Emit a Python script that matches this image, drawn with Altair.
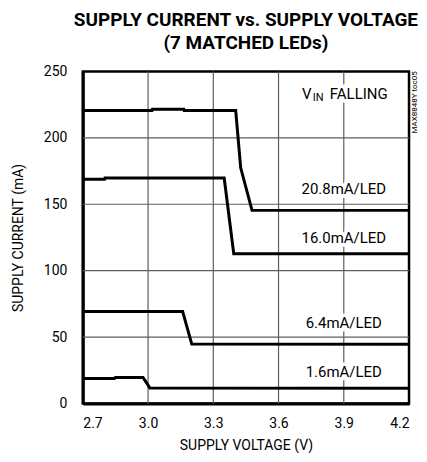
import altair as alt
import pandas as pd

FONT = "Roboto"

# Series
x_208 = [2.7, 3.018, 3.02, 3.164, 3.166, 3.403, 3.426, 3.478, 4.2]
y_208 = [220.5, 220.5, 221.5, 221.5, 220.5, 220.5, 177.4, 145.4, 145.4]
x_160 = [2.7, 2.80, 2.802, 3.350, 3.394, 4.2]
y_160 = [168.8, 168.8, 169.8, 169.8, 112.8, 112.8]
x_064 = [2.7, 3.159, 3.201, 4.2]
y_064 = [69.3, 69.3, 44.8, 44.6]
x_016 = [2.7, 2.845, 2.85, 2.977, 3.008, 4.2]
y_016 = [18.8, 18.8, 19.7, 19.7, 11.8, 11.5]

series_names = ["20.8mA/LED", "16.0mA/LED", "6.4mA/LED", "1.6mA/LED"]
label_x = [3.9, 3.9, 3.9, 3.9]
label_y = [161.6, 124.9, 61.0, 23.5]

x_ticks = [2.7, 3.0, 3.3, 3.6, 3.9, 4.2]
y_ticks = [0, 50, 100, 150, 200, 250]

rows = []
for name, xs_, ys_ in zip(series_names, [x_208, x_160, x_064, x_016], [y_208, y_160, y_064, y_016]):
    for k, (a, b) in enumerate(zip(xs_, ys_)):
        rows.append({"series": name, "order": k, "v": a, "i": b})
df = pd.DataFrame(rows)
labels = pd.DataFrame({"text": series_names, "v": label_x, "i": label_y})
vin = pd.DataFrame({"v": [3.9], "i": [233.3]})
note = pd.DataFrame({"v": [4.2], "i": [250], "text": ["MAX8848Y toc05"]})
gx = pd.DataFrame({"v": x_ticks[1:-1]})
gy = pd.DataFrame({"i": y_ticks[1:-1]})

xs = alt.Scale(domain=[2.7, 4.2], nice=False, zero=False)
ys = alt.Scale(domain=[0, 250], nice=False)

common = dict(grid=False, ticks=False, domainColor="black", domainWidth=3,
              labelFontSize=14, titleFontSize=14, labelFont=FONT, titleFont=FONT,
              titleFontWeight="normal", labelColor="black", titleColor="black")
X = alt.X("v:Q", scale=xs, title="SUPPLY VOLTAGE (V)",
          axis=alt.Axis(values=x_ticks, format=".1f", labelPadding=13,
                        titlePadding=8, **common))
Y = alt.Y("i:Q", scale=ys, title="SUPPLY CURRENT (mA)",
          axis=alt.Axis(values=y_ticks, labelPadding=16, titlePadding=17,
                        minExtent=40, maxExtent=40, **common))

grid_v = alt.Chart(gx).mark_rule(color="#5e5e5e", strokeWidth=1.2).encode(x=X)
grid_h = alt.Chart(gy).mark_rule(color="#5e5e5e", strokeWidth=1.2).encode(y=Y)

lines = alt.Chart(df).mark_line(color="black", strokeWidth=3).encode(
    x=X, y=Y, detail="series:N", order="order:Q")

def txt_layer(data, text, size, dx=0, dy=0, align="center", halo=False):
    kw = dict(font=FONT, fontSize=size, align=align, dx=dx, dy=dy)
    if halo:
        kw.update(color="white", stroke="white", strokeWidth=7)
    else:
        kw.update(color="black")
    return alt.Chart(data).mark_text(**kw).encode(x=X, y=Y, text=text)

layers = [grid_v, grid_h, lines]
# halos (break the grid behind the annotations), then the texts
layers.append(txt_layer(labels, "text:N", 15, halo=True))
layers.append(txt_layer(vin, alt.value("V"), 15, dx=-42, align="left", halo=True))
layers.append(txt_layer(vin, alt.value("IN"), 11, dx=-31, dy=4, align="left", halo=True))
layers.append(txt_layer(vin, alt.value("FALLING"), 15, dx=-14, align="left", halo=True))
layers.append(txt_layer(labels, "text:N", 15))
layers.append(txt_layer(vin, alt.value("V"), 15, dx=-42, align="left"))
layers.append(txt_layer(vin, alt.value("IN"), 11, dx=-31, dy=4, align="left"))
layers.append(txt_layer(vin, alt.value("FALLING"), 15, dx=-14, align="left"))

note_t = alt.Chart(note).mark_text(font=FONT, fontSize=8, color="black",
                                   angle=270, align="right", baseline="top",
                                   dy=2).encode(x=X, y=Y, text="text:N")
layers.append(note_t)

chart = alt.layer(*layers).properties(
    width=327, height=333,
    title=alt.Title(["SUPPLY CURRENT vs. SUPPLY VOLTAGE", "(7 MATCHED LEDs)"],
                    font=FONT, fontSize=19, fontWeight="bold", color="black",
                    anchor="middle", lineHeight=23, offset=11),
    padding={"left": 4, "top": 3, "right": 0, "bottom": 0},
).configure_view(stroke="black", strokeWidth=2.5)

chart.save("out.html", embed_options={"renderer": "svg", "actions": False})
